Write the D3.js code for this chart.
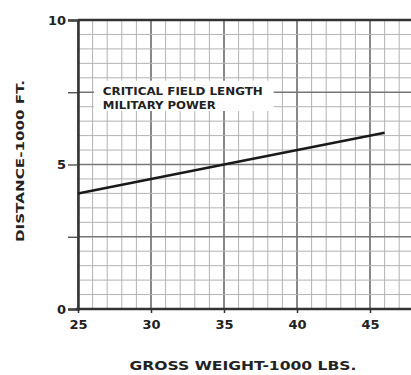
<!DOCTYPE html>
<html>
<head>
<meta charset="utf-8">
<script src="https://cdn.jsdelivr.net/npm/d3@7"></script>
<style>
  body { margin: 0; background: #fff; }
  svg { display: block; }
  text { font-family: "DejaVu Sans", sans-serif; font-weight: bold; fill: #222; }
</style>
</head>
<body>
<div id="chart"></div>
<script>
// curve values
const grossWeight = [25, 35, 46];
const fieldLength = [4.0, 5.0, 6.1];

const xTickLabels = [25, 30, 35, 40, 45];
const yTickLabels = [0, 5, 10];
const yMajorTicks = [0, 2.5, 5, 7.5, 10];

const noteLines = ["CRITICAL FIELD LENGTH", "MILITARY POWER"];
const xTitle = "GROSS WEIGHT-1000 LBS.";
const yTitle = "DISTANCE-1000 FT.";

const width = 411, height = 375;
const margin = { top: 20, left: 78, bottom: 66 };

const svg = d3.select("#chart").append("svg")
    .attr("width", width)
    .attr("height", height);

const x = d3.scaleLinear().domain([25, 48]).range([margin.left, margin.left + 23 * 14.6]);
const y = d3.scaleLinear().domain([0, 10]).range([height - margin.bottom, margin.top]);

const grid = svg.append("g");

// graph-paper mesh: 1000 lb verticals, 500 ft horizontals
grid.selectAll("line.v")
    .data(d3.range(25, 48.01, 1))
    .join("line")
    .attr("x1", d => x(d)).attr("x2", d => x(d))
    .attr("y1", y(0)).attr("y2", y(10))
    .attr("stroke", d => d % 5 === 0 ? "#6a6a6a" : "#b3b3b3")
    .attr("stroke-width", d => d % 5 === 0 ? 1.6 : 1);

grid.selectAll("line.h")
    .data(d3.range(0, 10.01, 0.5))
    .join("line")
    .attr("x1", x(25)).attr("x2", width)
    .attr("y1", d => y(d)).attr("y2", d => y(d))
    .attr("stroke", d => d % 2.5 === 0 ? "#777" : "#b3b3b3")
    .attr("stroke-width", d => d % 2.5 === 0 ? 1.5 : 1);

// top frame
svg.append("line")
    .attr("x1", x(25)).attr("x2", width)
    .attr("y1", y(10)).attr("y2", y(10))
    .attr("stroke", "#333").attr("stroke-width", 2.5);

// white patch behind the note
svg.append("rect")
    .attr("x", x(26.1)).attr("y", y(7.9))
    .attr("width", x(38.4) - x(26.1)).attr("height", y(6.85) - y(7.9))
    .attr("fill", "#fff");

svg.selectAll("text.note")
    .data(noteLines)
    .join("text")
    .attr("x", x(26.7))
    .attr("y", (d, i) => y(7.4) + i * 14)
    .attr("font-size", 10.5)
    .attr("fill", "#151515")
    .attr("textLength", (d, i) => i === 0 ? 160 : 113)
    .attr("lengthAdjust", "spacingAndGlyphs")
    .text(d => d);

// y axis
const yAxis = d3.axisLeft(y)
    .tickValues(yMajorTicks)
    .tickSize(10)
    .tickFormat(d => yTickLabels.includes(d) ? d : "");
const gy = svg.append("g")
    .attr("transform", `translate(${x(25)},0)`)
    .call(yAxis);
gy.select(".domain").attr("stroke", "#333").attr("stroke-width", 2.5);
gy.selectAll(".tick line").attr("stroke", "#444").attr("stroke-width", 1.3);
gy.selectAll(".tick text")
    .attr("font-size", 13)
    .attr("x", -12)
    .attr("fill", "#222");

// x axis
const xAxis = d3.axisBottom(x)
    .tickValues(xTickLabels)
    .tickSize(4)
    .tickFormat(d3.format("d"));
const gx = svg.append("g")
    .attr("transform", `translate(0,${y(0)})`)
    .call(xAxis);
gx.select(".domain").remove();
gx.append("line")
    .attr("x1", x(25) - 2).attr("x2", width)
    .attr("stroke", "#333").attr("stroke-width", 2.5);
gx.selectAll(".tick line").attr("stroke", "#333").attr("stroke-width", 1.5);
gx.selectAll(".tick text")
    .attr("font-size", 13)
    .attr("y", 11)
    .attr("fill", "#222");

// curve
const line = d3.line()
    .x((d, i) => x(grossWeight[i]))
    .y(d => y(d));
svg.append("path")
    .datum(fieldLength)
    .attr("d", line)
    .attr("fill", "none")
    .attr("stroke", "#1a1a1a")
    .attr("stroke-width", 2.5);

// titles
svg.append("text")
    .attr("x", 243).attr("y", 370)
    .attr("text-anchor", "middle")
    .attr("font-size", 12)
    .attr("textLength", 227)
    .attr("lengthAdjust", "spacingAndGlyphs")
    .text(xTitle);

svg.append("text")
    .attr("transform", `translate(24,161) rotate(-90)`)
    .attr("text-anchor", "middle")
    .attr("font-size", 11)
    .attr("textLength", 162)
    .attr("lengthAdjust", "spacingAndGlyphs")
    .text(yTitle);
</script>
</body>
</html>
